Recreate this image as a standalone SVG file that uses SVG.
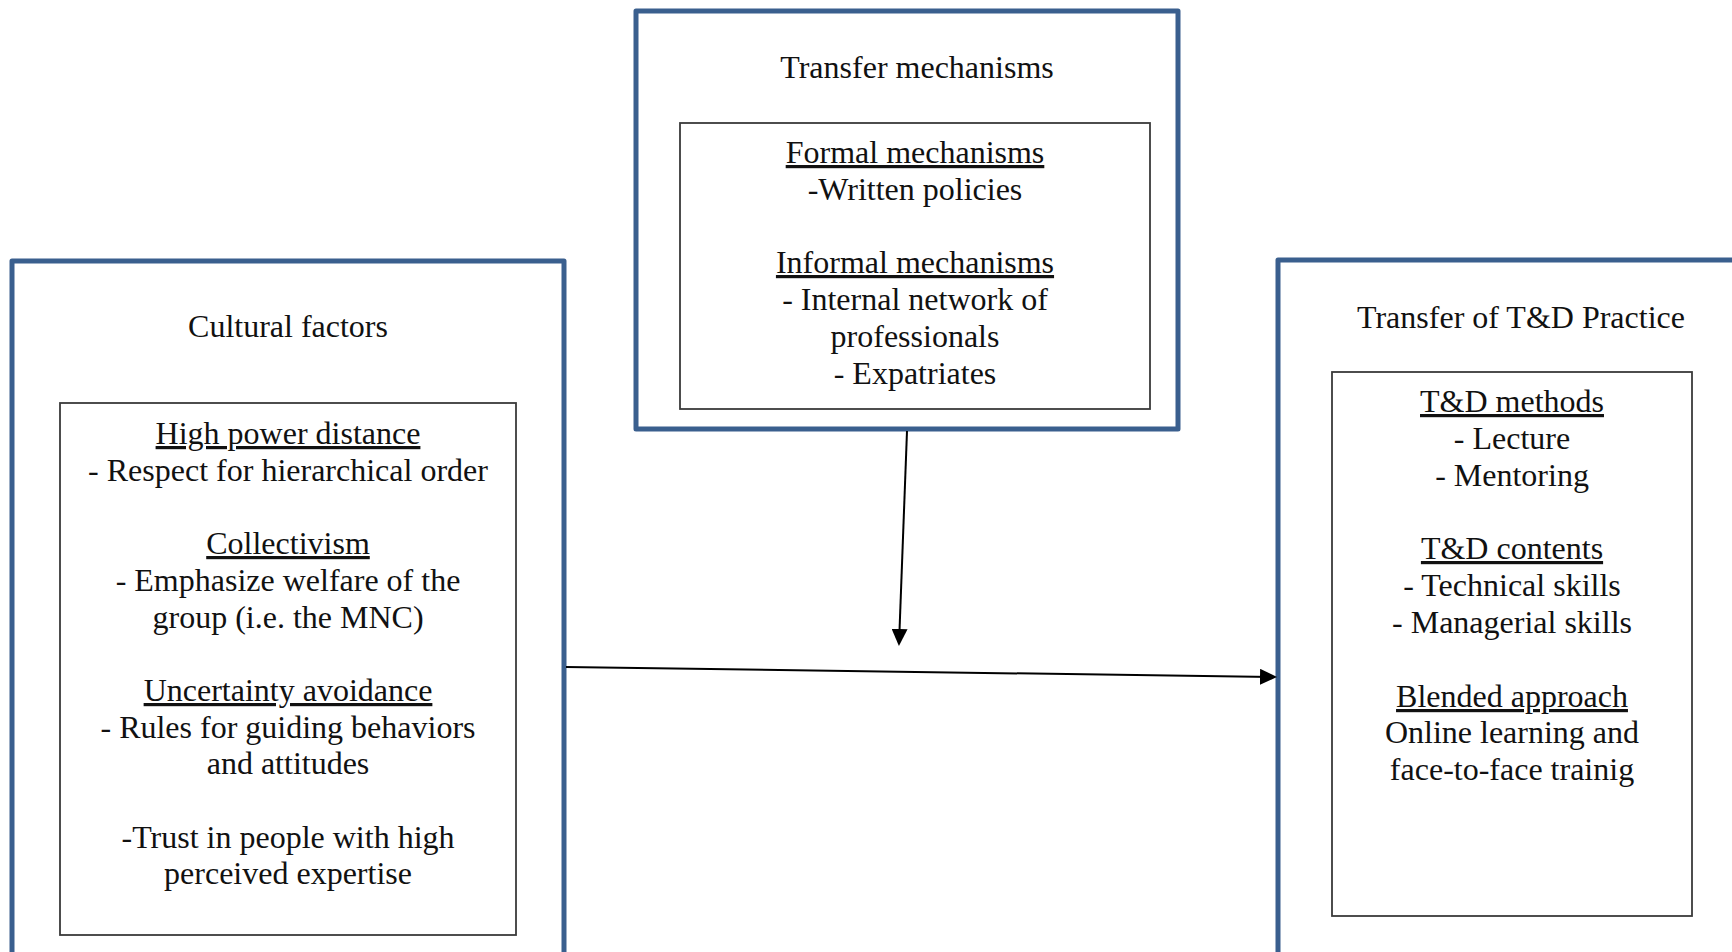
<svg xmlns="http://www.w3.org/2000/svg" width="1732" height="952" viewBox="0 0 1732 952">
  <defs>
    <style>
      .outer { fill: #ffffff; stroke: #3A5F8E; stroke-width: 5; stroke-linejoin: round; }
      .inner { fill: #ffffff; stroke: #3a3a3a; stroke-width: 1.8; }
      .t { font-family: "Liberation Serif", "Times New Roman", serif; font-size: 32px; fill: #111111; text-anchor: middle; }
      .u { text-decoration: underline; }
      .conn { stroke: #000000; stroke-width: 2; fill: none; }
    </style>
    <marker id="arrow" markerUnits="userSpaceOnUse" markerWidth="18" markerHeight="16" refX="15" refY="8" orient="auto">
      <path d="M0,0 L17,8 L0,16 Z" fill="#000000"/>
    </marker>
  </defs>
  <rect width="1732" height="952" fill="#ffffff"/>

  <g id="cultural-factors">
    <rect class="outer" x="12" y="261" width="552" height="720"/>
    <rect class="inner" x="60" y="403" width="456" height="532"/>
    <text class="t" x="288" y="337">Cultural factors</text>
    <text class="t u" x="288" y="444">High power distance</text>
    <text class="t" x="288" y="481">- Respect for hierarchical order</text>
    <text class="t u" x="288" y="554">Collectivism</text>
    <text class="t" x="288" y="591">- Emphasize welfare of the</text>
    <text class="t" x="288" y="628">group (i.e. the MNC)</text>
    <text class="t u" x="288" y="701">Uncertainty avoidance</text>
    <text class="t" x="288" y="738">- Rules for guiding behaviors</text>
    <text class="t" x="288" y="774">and attitudes</text>
    <text class="t" x="288" y="848">-Trust in people with high</text>
    <text class="t" x="288" y="884">perceived expertise</text>
  </g>

  <g id="transfer-mechanisms">
    <rect class="outer" x="636" y="11" width="542" height="418"/>
    <rect class="inner" x="680" y="123" width="470" height="286"/>
    <text class="t" x="917" y="78">Transfer mechanisms</text>
    <text class="t u" x="915" y="163">Formal mechanisms</text>
    <text class="t" x="915" y="200">-Written policies</text>
    <text class="t u" x="915" y="273">Informal mechanisms</text>
    <text class="t" x="915" y="310">- Internal network of</text>
    <text class="t" x="915" y="347">professionals</text>
    <text class="t" x="915" y="384">- Expatriates</text>
  </g>

  <g id="transfer-td-practice">
    <rect class="outer" x="1278" y="260" width="500" height="720"/>
    <rect class="inner" x="1332" y="372" width="360" height="544"/>
    <text class="t" x="1521" y="328">Transfer of T&amp;D Practice</text>
    <text class="t u" x="1512" y="412">T&amp;D methods</text>
    <text class="t" x="1512" y="449">- Lecture</text>
    <text class="t" x="1512" y="486">- Mentoring</text>
    <text class="t u" x="1512" y="559">T&amp;D contents</text>
    <text class="t" x="1512" y="596">- Technical skills</text>
    <text class="t" x="1512" y="633">- Managerial skills</text>
    <text class="t u" x="1512" y="707">Blended approach</text>
    <text class="t" x="1512" y="743">Online learning and</text>
    <text class="t" x="1512" y="780">face-to-face trainig</text>
  </g>

  <g id="connectors">
    <line class="conn" x1="907" y1="431" x2="899" y2="644" marker-end="url(#arrow)"/>
    <line class="conn" x1="566" y1="667" x2="1275" y2="677" marker-end="url(#arrow)"/>
  </g>
</svg>
